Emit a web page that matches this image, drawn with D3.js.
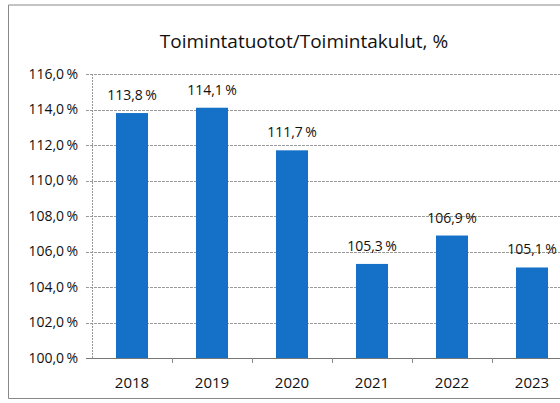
<!DOCTYPE html>
<html>
<head>
<meta charset="utf-8">
<script src="https://cdn.jsdelivr.net/npm/d3@7"></script>
<style>
  body { margin: 0; background: #fff; }
  text { font-family: "Open Sans", "Liberation Sans", sans-serif; fill: #111; }
</style>
</head>
<body>
<script>
const years = ["2018", "2019", "2020", "2021", "2022", "2023"];
const ratios = [113.8, 114.1, 111.7, 105.3, 106.9, 105.1];
const yTicks = [100, 102, 104, 106, 108, 110, 112, 114, 116];
const title = "Toimintatuotot/Toimintakulut, %";

const w = 560, h = 403;
const fmt = v => v.toFixed(1).replace(".", ",") + "\u2009%";

const svg = d3.select("body").append("svg")
  .attr("width", w)
  .attr("height", h);

// chart frame (left, top and bottom edges; right edge is cut off)
svg.append("path")
  .attr("d", "M562,5H8.5V398.5H562")
  .attr("fill", "none")
  .attr("stroke", "#888")
  .attr("stroke-width", 1);

const x = d3.scaleBand()
  .domain(years)
  .range([92, 572])
  .paddingInner(0.6)
  .paddingOuter(0.3);

const y = d3.scaleLinear()
  .domain([100, 116])
  .range([358, 74]);

// gridlines
svg.append("g").selectAll("line")
  .data(yTicks)
  .enter()
  .append("line")
  .attr("x1", 86)
  .attr("x2", 572)
  .attr("y1", d => Math.round(y(d)) + 0.5)
  .attr("y2", d => Math.round(y(d)) + 0.5)
  .attr("stroke", d => d === 100 ? "#777" : "#9a9a9a")
  .attr("stroke-width", 1)
  .attr("stroke-dasharray", d => d === 100 ? null : "3,1");

// y axis line
svg.append("line")
  .attr("x1", 92.5).attr("x2", 92.5)
  .attr("y1", y(116)).attr("y2", y(100))
  .attr("stroke", "#999")
  .attr("stroke-dasharray", "2,1");

// category ticks
svg.append("g").selectAll("line")
  .data(years.slice(1))
  .enter()
  .append("line")
  .attr("x1", d => x(d) - x.step() * 0.3 + 0.5)
  .attr("x2", d => x(d) - x.step() * 0.3 + 0.5)
  .attr("y1", y(100))
  .attr("y2", y(100) + 5)
  .attr("stroke", "#888");

// y tick labels
svg.append("g").selectAll("text")
  .data(yTicks)
  .enter()
  .append("text")
  .attr("x", 78)
  .attr("y", d => y(d))
  .attr("dy", "0.35em")
  .attr("text-anchor", "end")
  .attr("font-size", 14)
  .text(d => fmt(d));

// bars
svg.append("g").selectAll("rect")
  .data(ratios)
  .enter()
  .append("rect")
  .attr("x", (d, i) => x(years[i]))
  .attr("y", d => y(d))
  .attr("width", x.bandwidth())
  .attr("height", d => y(100) - y(d))
  .attr("fill", "#1570c8");

// value labels
svg.append("g").selectAll("text")
  .data(ratios)
  .enter()
  .append("text")
  .attr("x", (d, i) => x(years[i]) + x.bandwidth() / 2)
  .attr("y", d => y(d) - 13)
  .attr("text-anchor", "middle")
  .attr("font-size", 14)
  .text(d => fmt(d));

// x labels
svg.append("g").selectAll("text")
  .data(years)
  .enter()
  .append("text")
  .attr("x", d => x(d) + x.bandwidth() / 2)
  .attr("y", 388)
  .attr("text-anchor", "middle")
  .attr("font-size", 15)
  .text(d => d);

svg.append("text")
  .attr("x", 304)
  .attr("y", 48)
  .attr("text-anchor", "middle")
  .attr("font-size", 19)
  .text(title);
</script>
</body>
</html>
